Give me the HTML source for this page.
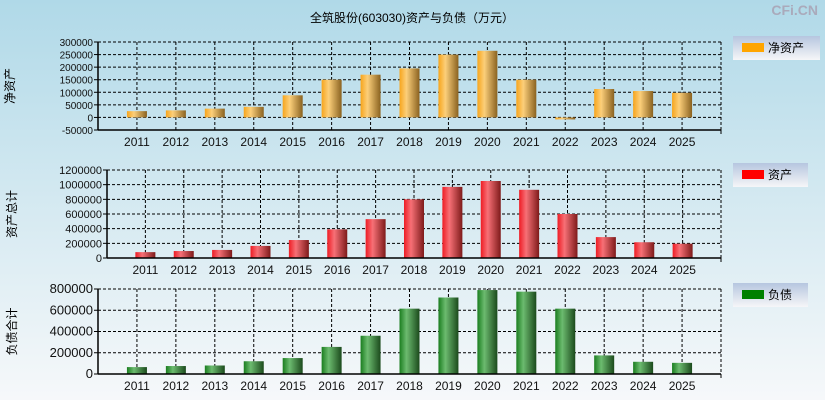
<!DOCTYPE html>
<html><head><meta charset="utf-8"><style>
html,body{margin:0;padding:0}
body{width:825px;height:400px;overflow:hidden;background:linear-gradient(#b0d9e8,#d4e9f1 50%,#f6f8fa);font-family:"Liberation Sans","Noto Sans CJK SC",sans-serif}
svg{display:block}
</style></head><body>
<svg id="c" width="825" height="400" xmlns="http://www.w3.org/2000/svg">
<defs>
<linearGradient id="gO" x1="0" x2="1"><stop offset="0" stop-color="#f7a51c"/><stop offset="0.35" stop-color="#fccf7a"/><stop offset="1" stop-color="#8a6220"/></linearGradient>
<linearGradient id="gR" x1="0" x2="1"><stop offset="0" stop-color="#ee1c24"/><stop offset="0.35" stop-color="#f77076"/><stop offset="1" stop-color="#7e1a1a"/></linearGradient>
<linearGradient id="gG" x1="0" x2="1"><stop offset="0" stop-color="#1a7d1f"/><stop offset="0.35" stop-color="#6cbb6f"/><stop offset="1" stop-color="#1b4a1c"/></linearGradient>
<linearGradient id="gL" x1="0" y1="0" x2="0" y2="1"><stop offset="0" stop-color="#b6c6df"/><stop offset="1" stop-color="#f6f6f8"/></linearGradient>
</defs>
<text x="412" y="22" text-anchor="middle" font-size="12">全筑股份(603030)资产与负债（万元）</text>
<text x="818" y="15" text-anchor="end" font-size="14" fill="#aab" font-weight="bold">CFi.CN</text>
</svg>
<script>
const years=['2011','2012','2013','2014','2015','2016','2017','2018','2019','2020','2021','2022','2023','2024','2025'];
const netAssets=[25000,28000,35000,42000,88000,150000,170000,195000,250000,265000,150000,-8000,113000,105000,98000];
const assets=[80000,95000,110000,165000,245000,390000,530000,800000,970000,1050000,930000,600000,285000,215000,195000];
const liabilities=[65000,75000,80000,120000,150000,255000,360000,615000,720000,790000,775000,615000,175000,115000,105000];
const ticks1=[-50000,0,50000,100000,150000,200000,250000,300000];
const ticks2=[0,200000,400000,600000,800000,1000000,1200000];
const ticks3=[0,200000,400000,600000,800000];
const svg=document.getElementById('c');
const NS='http://www.w3.org/2000/svg';
function mk(t,a,p){const e=document.createElementNS(NS,t);for(const k in a)e.setAttribute(k,a[k]);(p||svg).appendChild(e);return e;}
function panel(o){
  const g=mk('g',{});
  
  
  const L=o.left,R=721,T=o.top,B=o.bottom,mn=o.ticks[0],mx=o.ticks[o.ticks.length-1];
  const y=v=>B-(v-mn)/(mx-mn)*(B-T);
  const step=(R-L)/16;
  const x=i=>L+step*(i+1);
  o.ticks.forEach(t=>{
    if(t!==mn) mk('line',{x1:L,x2:R,y1:y(t),y2:y(t),stroke:'#000','stroke-dasharray':'3,2'},g);
    mk('line',{x1:L-4,x2:L,y1:y(t),y2:y(t),stroke:'#000'},g);
    const tx=mk('text',{x:L-5,y:y(t)+4,'text-anchor':'end','font-size':o.fs,fill:'#111'},g);tx.textContent=t;
  });
  years.forEach((yr,i)=>{
    mk('line',{x1:x(i),x2:x(i),y1:T,y2:B,stroke:'#000','stroke-dasharray':'3,2'},g);
    const tx=mk('text',{x:x(i),y:B+16,'text-anchor':'middle','font-size':12,fill:'#111'},g);tx.textContent=yr;
  });
  mk('line',{x1:R,x2:R,y1:T,y2:B,stroke:'#000','stroke-dasharray':'3,2'},g);
  o.data.forEach((v,i)=>{
    const y0=y(0),y1=y(v);
    const r=mk('rect',{x:x(i)-10,y:Math.min(y0,y1),width:20,height:Math.max(1,Math.abs(y1-y0)),fill:o.fill},g);
    
    
  });
  mk('line',{x1:L,x2:L,y1:T,y2:B,stroke:'#000','stroke-width':1.5},g);
  mk('line',{x1:L,x2:R,y1:B,y2:B,stroke:'#000','stroke-width':1.5},g);
  mk('line',{x1:R,x2:R,y1:B,y2:B+4,stroke:'#000'},g);
  const yt=mk('text',{x:0,y:0,'text-anchor':'middle','font-size':12,transform:`translate(${o.ylx},${(T+B)/2}) rotate(-90)`},g);
  yt.textContent=o.ytitle;
  
  
  const lg=mk('g',{},g);
  
  
  mk('rect',{x:733,y:o.ly,width:o.lw,height:24,fill:'url(#gL)'},lg);
  mk('rect',{x:742,y:o.ly+7,width:22,height:9,fill:o.lc},lg);
  const lt=mk('text',{x:768,y:o.ly+16,'font-size':12},lg);lt.textContent=o.label;
}
panel({name:'net-assets-panel',key:'net-assets',left:98,top:42,bottom:130,ticks:ticks1,data:netAssets,fill:'url(#gO)',fs:10,ylx:14,ytitle:'净资产',ly:36,lw:87,lc:'#ffa500',label:'净资产'});
panel({name:'assets-panel',key:'assets',left:107,top:170,bottom:258,ticks:ticks2,data:assets,fill:'url(#gR)',fs:11,ylx:16,ytitle:'资产总计',ly:163,lw:75,lc:'#ff0000',label:'资产'});
panel({name:'liabilities-panel',key:'liabilities',left:98,top:289,bottom:374,ticks:ticks3,data:liabilities,fill:'url(#gG)',fs:13,ylx:16,ytitle:'负债合计',ly:283,lw:75,lc:'#008000',label:'负债'});
</script>
</body></html>
